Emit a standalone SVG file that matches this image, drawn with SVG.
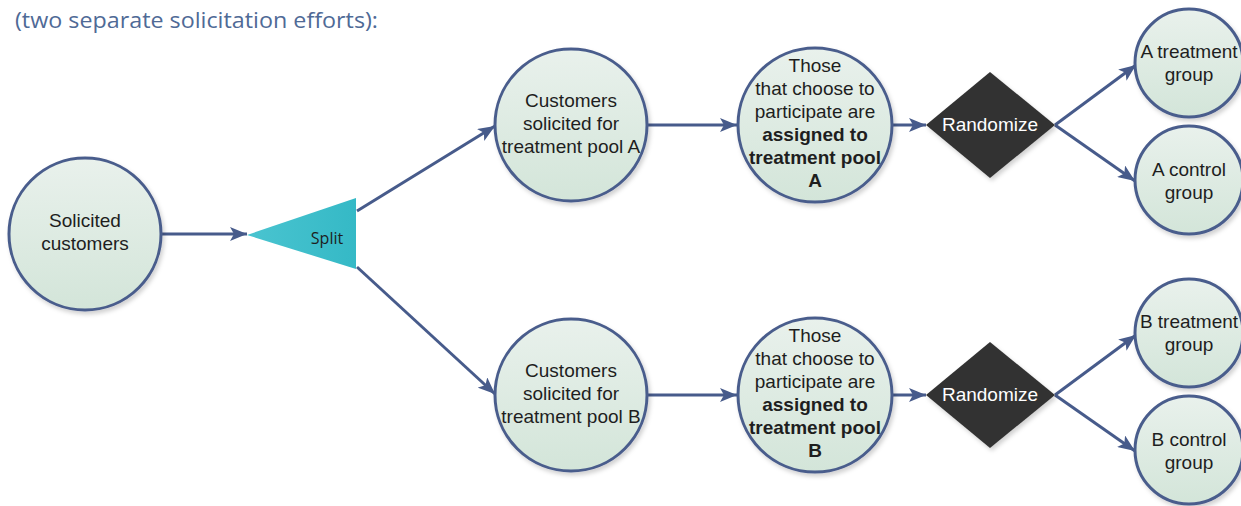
<svg xmlns="http://www.w3.org/2000/svg" width="1241" height="506" viewBox="0 0 1241 506">
<style>
.node circle{fill:url(#cg);stroke:#4a5d8c;stroke-width:3;filter:url(#sh)}
.t{font-family:"Liberation Sans",Arial,sans-serif;font-size:19px;fill:#1e1e1e;text-anchor:middle}
.b{font-weight:bold}
.w{fill:#ffffff}
.conn line{stroke:#475b8b;stroke-width:3;marker-end:url(#ah)}
</style>
<defs>
<linearGradient id="cg" x1="0" y1="0" x2="0" y2="1">
<stop offset="0" stop-color="#e9f1ec"/>
<stop offset="1" stop-color="#d3e5d9"/>
</linearGradient>
<linearGradient id="tg" x1="0" y1="0" x2="1" y2="0">
<stop offset="0" stop-color="#4ac4d0"/>
<stop offset="1" stop-color="#35b9c6"/>
</linearGradient>
<filter id="sh" x="-20%" y="-20%" width="140%" height="140%">
<feDropShadow dx="2" dy="3" stdDeviation="2" flood-color="#000" flood-opacity="0.18"/>
</filter>
<marker id="ah" markerUnits="userSpaceOnUse" markerWidth="18" markerHeight="14" refX="17" refY="7" orient="auto">
<path d="M0,0 L17,7 L0,14 L4,7 Z" fill="#475b8b"/>
</marker>
</defs>
<rect width="1241" height="506" fill="#ffffff"/>
<text x="15" y="28" font-family="'Open Sans',sans-serif" font-size="21" fill="#4f6a96" textLength="363" lengthAdjust="spacingAndGlyphs">(two separate solicitation efforts):</text>

<g class="conn">
<line x1="162" y1="234" x2="247" y2="234"/>
<line x1="357" y1="211" x2="495" y2="126"/>
<line x1="357" y1="267" x2="495" y2="394"/>
<line x1="647" y1="125" x2="737" y2="125"/>
<line x1="647" y1="395" x2="737" y2="395"/>
<line x1="893" y1="125" x2="926" y2="125"/>
<line x1="893" y1="395" x2="926" y2="395"/>
<line x1="1055" y1="125" x2="1136" y2="65"/>
<line x1="1055" y1="125" x2="1135" y2="181"/>
<line x1="1055" y1="395" x2="1136" y2="335"/>
<line x1="1055" y1="395" x2="1135" y2="451"/>
</g>

<g id="solicited" class="node">
<circle cx="85" cy="234" r="76"/>
<text class="t" x="85" y="227">Solicited</text>
<text class="t" x="85" y="250">customers</text>
</g>

<g id="split">
<polygon points="247,235 356,198 356,269" fill="url(#tg)"/>
<text x="327" y="244" font-family="'Open Sans',sans-serif" font-size="16" fill="#1e1e1e" text-anchor="middle">Split</text>
</g>

<g id="poolA" class="node">
<circle cx="571" cy="125" r="76"/>
<text class="t" x="571" y="107">Customers</text>
<text class="t" x="571" y="130">solicited for</text>
<text class="t" x="571" y="153">treatment pool A</text>
</g>

<g id="assignA" class="node">
<circle cx="815" cy="125" r="77"/>
<text class="t" x="815" y="72">Those</text>
<text class="t" x="815" y="95">that choose to</text>
<text class="t" x="815" y="118">participate are</text>
<text class="t b" x="815" y="141">assigned to</text>
<text class="t b" x="815" y="164">treatment pool</text>
<text class="t b" x="815" y="187">A</text>
</g>

<g id="randA">
<polygon points="926,125 990,72 1055,125 990,178" fill="#333333" filter="url(#sh)"/>
<text class="t w" x="990" y="131">Randomize</text>
</g>

<g id="treatA" class="node">
<circle cx="1189" cy="63" r="54"/>
<text class="t" x="1189" y="58">A treatment</text>
<text class="t" x="1189" y="81">group</text>
</g>

<g id="controlA" class="node">
<circle cx="1189" cy="180" r="54"/>
<text class="t" x="1189" y="176">A control</text>
<text class="t" x="1189" y="199">group</text>
</g>

<g id="poolB" class="node">
<circle cx="571" cy="395" r="76"/>
<text class="t" x="571" y="377">Customers</text>
<text class="t" x="571" y="400">solicited for</text>
<text class="t" x="571" y="423">treatment pool B</text>
</g>

<g id="assignB" class="node">
<circle cx="815" cy="395" r="77"/>
<text class="t" x="815" y="342">Those</text>
<text class="t" x="815" y="365">that choose to</text>
<text class="t" x="815" y="388">participate are</text>
<text class="t b" x="815" y="411">assigned to</text>
<text class="t b" x="815" y="434">treatment pool</text>
<text class="t b" x="815" y="457">B</text>
</g>

<g id="randB">
<polygon points="926,395 990,342 1055,395 990,448" fill="#333333" filter="url(#sh)"/>
<text class="t w" x="990" y="401">Randomize</text>
</g>

<g id="treatB" class="node">
<circle cx="1189" cy="333" r="54"/>
<text class="t" x="1189" y="328">B treatment</text>
<text class="t" x="1189" y="351">group</text>
</g>

<g id="controlB" class="node">
<circle cx="1189" cy="450" r="54"/>
<text class="t" x="1189" y="446">B control</text>
<text class="t" x="1189" y="469">group</text>
</g>
</svg>
